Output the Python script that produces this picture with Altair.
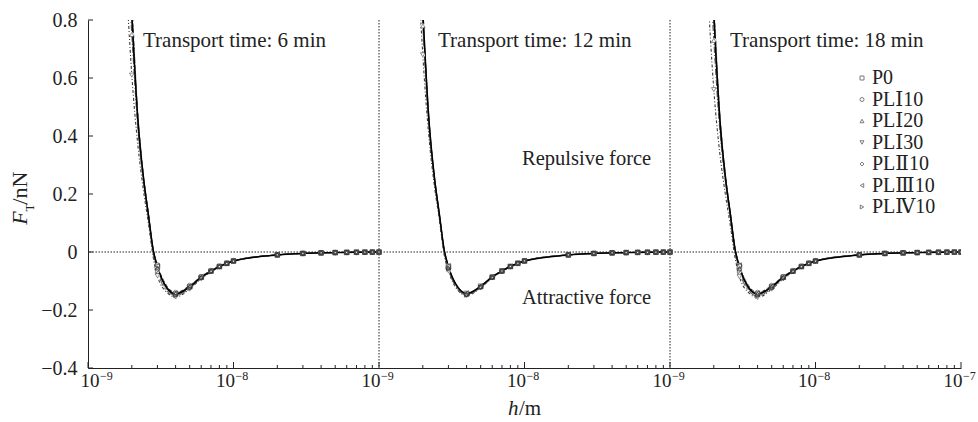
import altair as alt
import numpy as np
import pandas as pd

# ---------------- data ----------------
SERIES = ["P0", "PLⅠ10", "PLⅠ20", "PLⅠ30", "PLⅡ10", "PLⅢ10", "PLⅣ10"]
SHAPES = ["square", "circle", "triangle-up", "triangle-down", "diamond", "triangle-left", "triangle-right"]
PANEL_TITLES = ["Transport time: 6 min", "Transport time: 12 min", "Transport time: 18 min"]

H_NEAR_NM = [1.8, 1.9, 2.0, 2.2, 2.4, 2.6, 2.8, 3.0, 3.5, 4, 5, 6, 7, 8, 9, 10]
H_FAR_NM = [20, 30, 40, 50, 60, 70, 80, 90, 100]
MARKER_H_NM = [2, 3, 4, 5, 6, 7, 8, 9, 10, 20, 30, 40, 50, 60, 70, 80, 90, 100]

F_FAR = [-0.010, -0.005, -0.003, -0.002, -0.0013, -0.0009, -0.0006, -0.0004, -0.0003]

F_6MIN = {
    "P0":     [1.40, 1.05, 0.82, 0.46, 0.26, 0.13, 0.010, -0.050, -0.125, -0.145, -0.120, -0.087, -0.066, -0.050, -0.039, -0.031],
    "PLⅠ10":  [1.45, 1.10, 0.86, 0.47, 0.265, 0.13, 0.010, -0.045, -0.120, -0.140, -0.116, -0.085, -0.064, -0.049, -0.038, -0.030],
    "PLⅠ20":  [1.20, 0.95, 0.75, 0.43, 0.25, 0.12, 0.000, -0.055, -0.125, -0.142, -0.118, -0.087, -0.065, -0.050, -0.039, -0.031],
    "PLⅠ30":  [1.00, 0.79, 0.61, 0.37, 0.215, 0.10, -0.015, -0.082, -0.140, -0.155, -0.128, -0.092, -0.069, -0.052, -0.041, -0.032],
    "PLⅡ10":  [1.35, 1.02, 0.81, 0.45, 0.255, 0.125, 0.005, -0.060, -0.130, -0.148, -0.122, -0.089, -0.067, -0.051, -0.040, -0.031],
    "PLⅢ10":  [1.50, 1.12, 0.88, 0.48, 0.27, 0.135, 0.012, -0.048, -0.122, -0.143, -0.119, -0.086, -0.065, -0.050, -0.039, -0.031],
    "PLⅣ10":  [1.30, 1.00, 0.83, 0.44, 0.25, 0.12, 0.000, -0.065, -0.135, -0.150, -0.125, -0.090, -0.068, -0.051, -0.040, -0.032],
}
F_12MIN = {
    "P0":     [1.42, 1.06, 0.83, 0.46, 0.26, 0.13, 0.010, -0.050, -0.123, -0.143, -0.118, -0.086, -0.065, -0.050, -0.039, -0.031],
    "PLⅠ10":  [1.40, 1.05, 0.82, 0.455, 0.258, 0.128, 0.008, -0.052, -0.125, -0.145, -0.120, -0.087, -0.066, -0.050, -0.039, -0.031],
    "PLⅠ20":  [1.30, 0.99, 0.78, 0.44, 0.25, 0.122, 0.003, -0.055, -0.128, -0.146, -0.120, -0.087, -0.066, -0.050, -0.039, -0.031],
    "PLⅠ30":  [1.15, 0.88, 0.68, 0.40, 0.23, 0.11, -0.008, -0.065, -0.133, -0.150, -0.123, -0.089, -0.067, -0.051, -0.040, -0.031],
    "PLⅡ10":  [1.38, 1.04, 0.815, 0.45, 0.255, 0.125, 0.005, -0.057, -0.128, -0.147, -0.121, -0.088, -0.066, -0.050, -0.039, -0.031],
    "PLⅢ10":  [1.45, 1.08, 0.85, 0.47, 0.265, 0.132, 0.012, -0.048, -0.122, -0.142, -0.117, -0.085, -0.064, -0.049, -0.038, -0.030],
    "PLⅣ10":  [1.35, 1.02, 0.81, 0.45, 0.252, 0.124, 0.004, -0.058, -0.130, -0.148, -0.122, -0.088, -0.066, -0.050, -0.039, -0.031],
}
F_18MIN = {
    "P0":     [1.40, 1.05, 0.82, 0.46, 0.26, 0.13, 0.010, -0.050, -0.125, -0.145, -0.120, -0.087, -0.066, -0.050, -0.039, -0.031],
    "PLⅠ10":  [1.45, 1.09, 0.85, 0.47, 0.265, 0.132, 0.010, -0.047, -0.120, -0.140, -0.116, -0.085, -0.064, -0.049, -0.038, -0.030],
    "PLⅠ20":  [1.20, 0.93, 0.73, 0.42, 0.245, 0.118, -0.002, -0.058, -0.128, -0.145, -0.120, -0.087, -0.066, -0.050, -0.039, -0.031],
    "PLⅠ30":  [0.95, 0.73, 0.56, 0.34, 0.20, 0.09, -0.020, -0.085, -0.142, -0.157, -0.128, -0.093, -0.069, -0.052, -0.041, -0.032],
    "PLⅡ10":  [1.35, 1.03, 0.81, 0.45, 0.255, 0.125, 0.004, -0.060, -0.130, -0.148, -0.122, -0.089, -0.067, -0.051, -0.040, -0.031],
    "PLⅢ10":  [1.48, 1.11, 0.87, 0.48, 0.27, 0.135, 0.012, -0.045, -0.120, -0.142, -0.118, -0.086, -0.065, -0.050, -0.039, -0.031],
    "PLⅣ10":  [1.30, 1.00, 0.83, 0.44, 0.25, 0.12, 0.000, -0.066, -0.135, -0.152, -0.125, -0.090, -0.068, -0.051, -0.040, -0.032],
}
PANEL_DATA = [F_6MIN, F_12MIN, F_18MIN]

Y_TICKS = [-0.4, -0.2, 0, 0.2, 0.4, 0.6, 0.8]
X_TICK_EXP = ["−9", "−8", "−9", "−8", "−9", "−8", "−7"]   # labels at each decade position
MINOR_MULT = [2, 3, 4, 5, 6, 7, 8, 9]

LINE_COLORS = ["#000000", "#2a2a2a", "#555555", "#3a3a3a", "#777777", "#999999", "#666666"]
LINE_DASHES = [[1, 0], [4, 2], [6, 2, 1, 2], [3, 2, 1, 2], [1.5, 1.5], [5, 3], [8, 2, 2, 2]]

FONT = "Liberation Serif"
LEGEND_FONT = "Liberation Serif, DejaVu Serif, serif"

# ---------------- tables ----------------
rows = []
for p, table in enumerate(PANEL_DATA):
    for s in SERIES:
        vals = table[s] + F_FAR
        for h, v in zip(H_NEAR_NM + H_FAR_NM, vals):
            rows.append({"panel": p, "series": s, "h_nm": h, "h": h * 1e-9, "F": v})
df = pd.DataFrame(rows)
# broken log axis: each panel spans two decades 1e-9 .. 1e-7
df["pos"] = df["panel"] * 2 + np.log10(df["h"]) + 9
df["key"] = df["series"] + "_" + df["panel"].astype(str)
df_pts = df[df["h_nm"].isin(MARKER_H_NM)].copy()
df_pts["sample"] = df_pts["series"]

major = pd.DataFrame({"pos": list(range(len(X_TICK_EXP))), "exp": X_TICK_EXP})
minor = pd.DataFrame({"pos": [p * 2 + d + np.log10(k) for p in range(3) for d in range(2) for k in MINOR_MULT]})
yt = pd.DataFrame({"F": Y_TICKS})
zero_df = pd.DataFrame({"F": [0]})
div_df = pd.DataFrame({"pos": [2, 4]})

W, H = 873, 348
xscale = alt.Scale(domain=[0, 6], nice=False, zero=False)
yscale = alt.Scale(domain=[-0.4, 0.8], nice=False, zero=False)
xaxis = alt.Axis(labels=False, ticks=False, grid=False, title=None, domainColor="#222", domainWidth=1)
yaxis = alt.Axis(values=Y_TICKS, format=".1~f", ticks=False, grid=False, title=None,
                 domainColor="#222", domainWidth=1, labelFont=FONT, labelFontSize=20,
                 labelColor="#222", labelPadding=11)
X = alt.X("pos:Q", scale=xscale, axis=xaxis)
Y = alt.Y("F:Q", scale=yscale, axis=yaxis)

lines = alt.Chart(df).mark_line(clip=True, strokeWidth=1.1, interpolate="monotone").encode(
    x=X, y=Y,
    color=alt.Color("series:N", scale=alt.Scale(domain=SERIES, range=LINE_COLORS), legend=None),
    strokeDash=alt.StrokeDash("series:N", scale=alt.Scale(domain=SERIES, range=LINE_DASHES), legend=None),
    detail="key:N",
)
p0_line = alt.Chart(df).transform_filter(alt.datum.series == "P0").mark_line(
    clip=True, strokeWidth=1.5, interpolate="monotone", color="#000").encode(
    x=X, y=Y, detail="key:N")

# white discs under the hollow markers
marker_bg = alt.Chart(df_pts).mark_circle(clip=True, color="white", opacity=1, size=22).encode(x=X, y=Y)

points = alt.Chart(df_pts).mark_point(clip=True, filled=False, size=22, strokeWidth=0.8, color="#333").encode(
    x=X, y=Y,
    shape=alt.Shape("sample:N", scale=alt.Scale(domain=SERIES, range=SHAPES),
                    legend=alt.Legend(title=None, orient="none", legendX=764, legendY=48,
                                      labelFont=LEGEND_FONT, labelFontSize=20, labelColor="#222",
                                      symbolSize=16, symbolStrokeColor="#444", symbolStrokeWidth=1,
                                      symbolFillColor="white", labelOffset=0, rowPadding=1.5,
                                      padding=0, labelLimit=200)),
)

zero_line = alt.Chart(zero_df).mark_rule(color="#222", strokeWidth=1, strokeDash=[1.5, 1.5]).encode(y=Y)
dividers = alt.Chart(div_df).mark_rule(color="#222", strokeWidth=1, strokeDash=[1.5, 1.5]).encode(x=X)

ytick_marks = alt.Chart(yt).mark_rule(color="#222", strokeWidth=1).encode(
    y=Y, x=alt.value(0), x2=alt.value(5))
xmajor_marks = alt.Chart(major).mark_rule(color="#222", strokeWidth=1).encode(
    x=X, y=alt.value(H), y2=alt.value(H - 6))
xminor_marks = alt.Chart(minor).mark_rule(color="#222", strokeWidth=1).encode(
    x=X, y=alt.value(H), y2=alt.value(H - 3))

# x tick labels: "10" with superscript exponent
base_lab = alt.Chart(major)
ten_rest = base_lab.transform_filter("datum.pos > 0").mark_text(
    font=FONT, fontSize=19, align="right", baseline="alphabetic", dx=1.5, color="#222").encode(
    x=X, y=alt.value(H + 19), text=alt.value("10"))
exp_rest = base_lab.transform_filter("datum.pos > 0").mark_text(
    font=FONT, fontSize=12, align="left", baseline="alphabetic", dx=2, color="#222").encode(
    x=X, y=alt.value(H + 12), text="exp:N")
ten_first = base_lab.transform_filter("datum.pos == 0").mark_text(
    font=FONT, fontSize=19, align="right", baseline="alphabetic", dx=11.5, color="#222").encode(
    x=X, y=alt.value(H + 19), text=alt.value("10"))
exp_first = base_lab.transform_filter("datum.pos == 0").mark_text(
    font=FONT, fontSize=12, align="left", baseline="alphabetic", dx=12, color="#222").encode(
    x=X, y=alt.value(H + 12), text="exp:N")

def label(txt, x, y, size=21, align="left", style="normal", angle=0, baseline="alphabetic"):
    return alt.Chart(zero_df).mark_text(font=FONT, fontSize=size, align=align, baseline=baseline,
                                        fontStyle=style, angle=angle, color="#222").encode(
        x=alt.value(x), y=alt.value(y), text=alt.value(txt))

annots = [
    label(PANEL_TITLES[0], 55, 27),
    label(PANEL_TITLES[1], 350, 27),
    label(PANEL_TITLES[2], 642, 27),
    label("Repulsive force", 434, 145, size=20.5),
    label("Attractive force", 434, 284, size=20.5),
    # x title  h/m
    label("h", 430.5, 395, style="italic", align="right"),
    label("/m", 431, 395),
    # y title  F_T/nN (rotated)
    label("F", -61, 198, size=22, style="italic", align="center", angle=270),
    label("T", -54, 187.5, size=13, align="center", angle=270),
    label("/nN", -61, 168, size=22, align="center", angle=270),
]

chart = alt.layer(
    zero_line, dividers, lines, p0_line, marker_bg, points, ytick_marks, xmajor_marks, xminor_marks,
    ten_rest, exp_rest, ten_first, exp_first, *annots
).resolve_legend(shape="independent").properties(
    width=W, height=H,
    autosize=alt.AutoSizeParams(type="none"),
    padding={"left": 88, "top": 20, "right": 17, "bottom": 54},
    background="white",
).configure_view(stroke=None)

chart.save("out.html", embed_options={"renderer": "svg", "actions": False})
